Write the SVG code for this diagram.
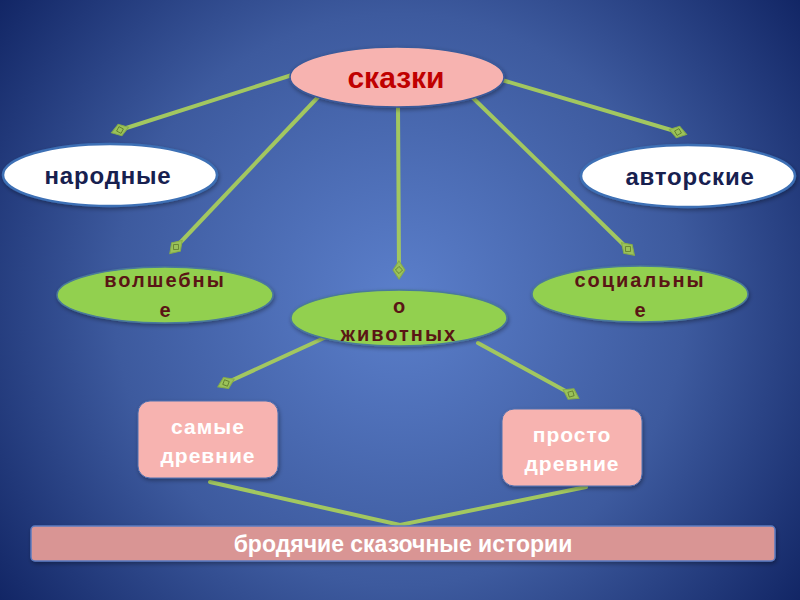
<svg xmlns="http://www.w3.org/2000/svg" width="800" height="600" viewBox="0 0 800 600">
<defs>
<radialGradient id="bg" cx="400" cy="300" r="520" gradientUnits="userSpaceOnUse">
<stop offset="0" stop-color="#5b7fcb"/>
<stop offset="0.55" stop-color="#3d5a9e"/>
<stop offset="1" stop-color="#0e2160"/>
</radialGradient>
<marker id="dia" markerWidth="20" markerHeight="14" refX="10" refY="7" orient="auto" markerUnits="userSpaceOnUse">
<path d="M1,7 L10,1 L19,7 L10,13 Z" fill="#9bc25a" stroke="#86ad48" stroke-width="1"/>
<rect x="7.5" y="4.5" width="5" height="5" fill="none" stroke="#5d7a2c" stroke-width="0.8" transform="rotate(45 10 7)"/>
</marker>
<filter id="sh" x="-10%" y="-20%" width="120%" height="140%">
<feDropShadow dx="1" dy="2" stdDeviation="2" flood-color="#000" flood-opacity="0.35"/>
</filter>
</defs>
<style>
.ln{stroke:#a2c760;stroke-width:4;fill:none;stroke-linecap:round}
.t{font-family:"Liberation Sans",Arial,sans-serif;font-weight:bold;text-anchor:middle}
.pink{fill:#f7b3b0;stroke:#3a5a9a;stroke-width:1.5}
.white{fill:#ffffff;stroke:#3d6fb5;stroke-width:2.5}
.green{fill:#92d050;stroke:#4a7a9a;stroke-width:1.5}
.box{fill:#f7b3b0;stroke:#5070b0;stroke-width:1}
</style>
<rect width="800" height="600" fill="url(#bg)"/>
<g id="connectors">
<line class="ln" x1="292" y1="75" x2="120" y2="130" marker-end="url(#dia)"/>
<line class="ln" x1="320" y1="95" x2="176" y2="247" marker-end="url(#dia)"/>
<line class="ln" x1="398" y1="107" x2="399" y2="270" marker-end="url(#dia)"/>
<line class="ln" x1="472" y1="97" x2="628" y2="249" marker-end="url(#dia)"/>
<line class="ln" x1="502" y1="80" x2="678" y2="132" marker-end="url(#dia)"/>
<line class="ln" x1="324" y1="338" x2="226" y2="383" marker-end="url(#dia)"/>
<line class="ln" x1="478" y1="343" x2="571" y2="394" marker-end="url(#dia)"/>
<polyline class="ln" points="210,482 400,525 586,487"/>
</g>
<g id="skazki">
<ellipse class="pink" cx="397" cy="77" rx="107" ry="30" filter="url(#sh)"/>
<text class="t" x="396" y="88" font-size="30" fill="#c00000">сказки</text>
</g>
<g id="narodnye">
<ellipse class="white" cx="110" cy="175" rx="107" ry="31" filter="url(#sh)"/>
<text class="t" x="108" y="184" font-size="24" fill="#17204f" letter-spacing="0.8">народные</text>
</g>
<g id="avtorskie">
<ellipse class="white" cx="688" cy="176" rx="107" ry="31" filter="url(#sh)"/>
<text class="t" x="690" y="185" font-size="24" fill="#17204f" letter-spacing="0.8">авторские</text>
</g>
<g id="volshebnye">
<ellipse class="green" cx="165" cy="295" rx="108" ry="28" filter="url(#sh)"/>
<text class="t" x="165" y="287" font-size="20" fill="#5a1515" letter-spacing="2">волшебны</text>
<text class="t" x="165" y="317" font-size="20" fill="#5a1515">е</text>
</g>
<g id="o-zhivotnykh">
<ellipse class="green" cx="399" cy="318" rx="108" ry="28" filter="url(#sh)"/>
<text class="t" x="399" y="313" font-size="20" fill="#5a1515">о</text>
<text class="t" x="399" y="341" font-size="20" fill="#5a1515" letter-spacing="2">животных</text>
</g>
<g id="socialnye">
<ellipse class="green" cx="640" cy="294" rx="108" ry="28" filter="url(#sh)"/>
<text class="t" x="640" y="287" font-size="20" fill="#5a1515" letter-spacing="2">социальны</text>
<text class="t" x="640" y="317" font-size="20" fill="#5a1515">е</text>
</g>
<g id="samye-drevnie">
<rect class="box" x="138" y="401" width="140" height="77" rx="12" filter="url(#sh)"/>
<text class="t" x="208" y="434" font-size="21" fill="#ffffff" letter-spacing="1">самые</text>
<text class="t" x="208" y="463" font-size="21" fill="#ffffff" letter-spacing="1">древние</text>
</g>
<g id="prosto-drevnie">
<rect class="box" x="502" y="409" width="140" height="77" rx="12" filter="url(#sh)"/>
<text class="t" x="572" y="442" font-size="21" fill="#ffffff" letter-spacing="1">просто</text>
<text class="t" x="572" y="471" font-size="21" fill="#ffffff" letter-spacing="1">древние</text>
</g>
<g id="brodyachie">
<rect x="31" y="526" width="744" height="35" rx="4" fill="#d99594" stroke="#5b7bc0" stroke-width="1.5" filter="url(#sh)"/>
<text class="t" x="403" y="552" font-size="23" fill="#ffffff">бродячие сказочные истории</text>
</g>
</svg>
